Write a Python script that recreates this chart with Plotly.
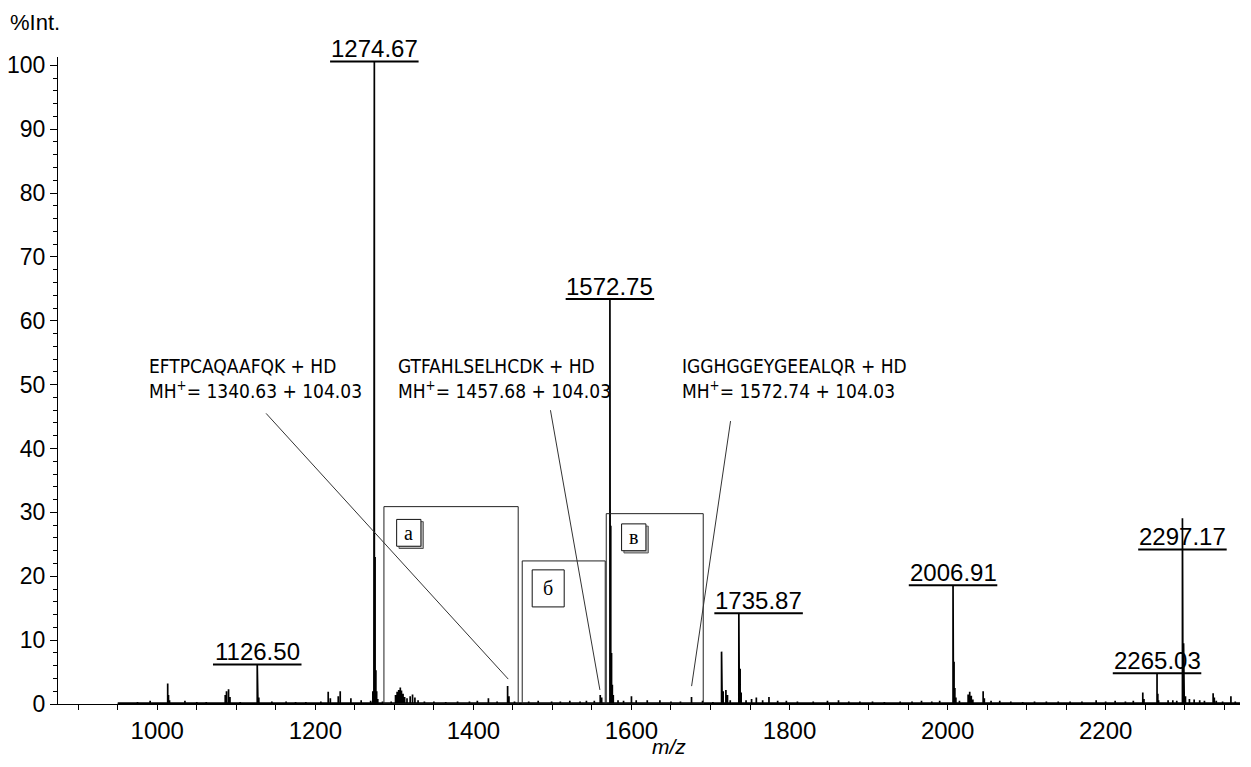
import plotly.graph_objects as go

# ---------------- data ----------------
scan_range = [950, 2370]          # acquired m/z range (baseline extent)

peak_mz = [975, 991, 1013.2, 1014.2, 1015.5, 1035, 1050, 1062, 1086.0, 1087.6, 1090.2, 1092.0,
           1105, 1126.50, 1127.4, 1128.5, 1145, 1163, 1175, 1188, 1207, 1216.3, 1219, 1229,
           1231.5, 1245, 1258, 1270, 1272.8, 1274.1, 1274.67, 1275.6, 1276.6, 1277.6, 1279,
           1285, 1296, 1301.5, 1303.5, 1305.5, 1307.5, 1309, 1311, 1313, 1316, 1320, 1323,
           1326, 1330, 1338, 1350, 1365, 1380, 1395, 1405, 1419, 1430, 1443.3, 1445, 1452,
           1470, 1482, 1499, 1510, 1522, 1535, 1543, 1553, 1560.5, 1562.3, 1572.75, 1573.2,
           1573.8, 1574.8, 1575.8, 1577, 1583, 1590, 1600, 1606, 1620, 1636, 1650, 1662,
           1676, 1690, 1703, 1714.0, 1714.8, 1716, 1719.5, 1721.5, 1725, 1735.87, 1736.5,
           1737.5, 1738.8, 1745, 1752, 1758, 1766, 1774, 1785, 1796, 1810, 1830, 1848, 1862,
           1875, 1889, 1905, 1920, 1940, 1955, 1967, 1980, 1990, 2006.91, 2007.4, 2008.2,
           2009.2, 2010.5, 2015, 2026, 2028, 2030, 2032, 2045, 2046.5, 2055, 2066, 2080,
           2095, 2110, 2125, 2140, 2155, 2170, 2188, 2200, 2212, 2225, 2235, 2247, 2248.5,
           2265.03, 2266, 2267, 2279, 2285, 2290, 2297.17, 2297.8, 2298.6, 2299.5, 2301,
           2306, 2312, 2319, 2325, 2336, 2337.5, 2340, 2348, 2358.5, 2364]
peak_int = [0.3, 0.5, 3.2, 1.4, 0.6, 0.5, 0.3, 0.3, 1.4, 2.0, 2.3, 1.1,
            0.3, 6.2, 3.6, 1.0, 0.4, 0.4, 0.3, 0.3, 0.4, 1.9, 0.9, 1.2,
            2.0, 0.9, 0.6, 0.5, 2.0, 81.0, 100.6, 23.0, 5.3, 2.0, 0.8,
            0.4, 0.4, 1.4, 1.9, 2.2, 2.6, 2.1, 1.6, 1.1, 0.9, 1.2, 1.5,
            1.0, 0.6, 0.4, 0.4, 0.3, 0.4, 0.4, 0.5, 0.9, 0.4, 2.8, 1.2, 0.4,
            0.4, 0.5, 0.4, 0.4, 0.5, 0.4, 0.5, 0.5, 1.4, 1.0, 63.4, 56.1,
            27.9, 8.0, 3.0, 1.4, 0.6, 0.5, 1.2, 0.6, 0.6, 0.6, 0.4, 0.4,
            1.1, 0.5, 0.3, 8.2, 4.0, 2.0, 2.2, 1.4, 0.6, 14.2, 12.0,
            5.5, 1.8, 0.6, 0.8, 1.0, 0.6, 1.1, 0.5, 0.5, 0.4, 0.4, 0.5, 0.6,
            0.4, 0.4, 0.4, 0.3, 0.4, 0.4, 0.5, 0.4, 0.5, 18.6, 13.4, 6.6,
            2.5, 1.0, 0.5, 1.5, 1.9, 1.3, 0.7, 2.0, 0.9, 0.5, 0.5, 0.4,
            0.3, 0.4, 0.4, 0.4, 0.4, 0.4, 0.6, 0.4, 0.5, 0.4, 0.5, 1.8, 0.8,
            4.8, 1.6, 0.6, 0.6, 0.6, 0.5, 29.1, 18.6, 9.5, 3.0, 1.2,
            0.8, 0.7, 0.6, 0.5, 1.7, 1.0, 0.5, 0.4, 1.2, 0.4]

# labelled peaks
label_mz = [1126.50, 1274.67, 1572.75, 1735.87, 2006.91, 2265.03, 2297.17]
label_level = [6.2, 100.6, 63.4, 14.2, 18.6, 4.8, 24.2]     # height of the label underline (%Int.)
label_text = ["1126.50", "1274.67", "1572.75", "1735.87", "2006.91", "2265.03", "2297.17"]
label_offset_mz = [0, 0, 0, 25, 0, 0, 0]

# peptide assignments
pep_seq = ["EFTPCAQAAFQK + HD", "GTFAHLSELHCDK + HD", "IGGHGGEYGEEALQR + HD"]
pep_mh = ["1340.63 + 104.03", "1457.68 + 104.03", "1572.74 + 104.03"]
pep_text_mz = [987, 1302, 1661]
pep_text_level = 50.9
callout_from_mz = [1137.7, 1497.5, 1725.4]
callout_from_int = [45.5, 46.0, 44.3]
callout_to_mz = [1444.1, 1560.1, 1676.1]
callout_to_int = [3.9, 2.2, 2.8]

# inset regions a, b, v
region_name = ["а", "б", "в"]
region_lo = [1286.8, 1461.8, 1568.1]
region_hi = [1456.7, 1566.8, 1690.8]
region_top = [30.9, 22.4, 29.8]
tag_lo = [1302.9, 1474.4, 1587.5]
tag_hi = [1333.6, 1514.9, 1618.3]
tag_bottom = [24.7, 15.2, 24.0]
tag_top = [28.9, 21.0, 28.2]
tag_shadow = [True, False, True]

x_range = [874.4, 2370]
y_range = [0, 101.3]
x_ticks = [1000, 1200, 1400, 1600, 1800, 2000, 2200]
y_ticks = [0, 10, 20, 30, 40, 50, 60, 70, 80, 90, 100]

# ---------------- figure ----------------
xs, ys = [scan_range[0]], [0]
for m, h in zip(peak_mz, peak_int):
    xs += [m, m, m]
    ys += [0, h, 0]
xs.append(scan_range[1]); ys.append(0)

fig = go.Figure()
fig.add_trace(go.Scatter(x=scan_range, y=[0, 0], mode="lines",
                         line=dict(color="black", width=3.5), hoverinfo="skip", showlegend=False))
fig.add_trace(go.Scatter(x=xs, y=ys, mode="lines",
                         line=dict(color="black", width=1.7), showlegend=False))

shapes = []
annotations = []

# region boxes
for lo, hi, top in zip(region_lo, region_hi, region_top):
    shapes.append(dict(type="rect", xref="x", yref="y", x0=lo, x1=hi, y0=0, y1=top,
                       line=dict(color="#222", width=1), fillcolor="rgba(0,0,0,0)", layer="above"))
# callout lines
for x0, y0, x1, y1 in zip(callout_from_mz, callout_from_int, callout_to_mz, callout_to_int):
    shapes.append(dict(type="line", xref="x", yref="y", x0=x0, y0=y0, x1=x1, y1=y1,
                       line=dict(color="#333", width=1), layer="above"))
# tag boxes
sx, sy = 3.0, 0.35
for name, lo, hi, bo, to, sh in zip(region_name, tag_lo, tag_hi, tag_bottom, tag_top, tag_shadow):
    if sh:
        shapes.append(dict(type="rect", xref="x", yref="y", x0=lo + sx, x1=hi + sx, y0=bo - sy, y1=to - sy,
                           line=dict(color="#555", width=1), fillcolor="#bbb", layer="above"))
    shapes.append(dict(type="rect", xref="x", yref="y", x0=lo, x1=hi, y0=bo, y1=to,
                       line=dict(color="#111", width=1), fillcolor="white", layer="above"))
    annotations.append(dict(x=(lo + hi) / 2, y=(bo + to) / 2, xref="x", yref="y", text=name,
                            showarrow=False, xanchor="center", yanchor="middle",
                            font=dict(family="Liberation Serif, Times New Roman, serif", size=20, color="black")))

# peak labels with underline
for m, lvl, txt, off in zip(label_mz, label_level, label_text, label_offset_mz):
    c = m + off
    shapes.append(dict(type="line", xref="x", yref="y", x0=c - 56, x1=c + 56, y0=lvl, y1=lvl,
                       line=dict(color="black", width=2), layer="above"))
    annotations.append(dict(x=c, y=lvl, xref="x", yref="y", text=txt, showarrow=False,
                            xanchor="center", yanchor="bottom", yshift=-3,
                            font=dict(family="Liberation Sans, Arial, sans-serif", size=24, color="black")))

# peptide texts
for seq, mh, xm in zip(pep_seq, pep_mh, pep_text_mz):
    annotations.append(dict(x=xm, y=pep_text_level, xref="x", yref="y",
                            text=f"{seq}<br>MH<sup>+</sup>= {mh}", showarrow=False,
                            xanchor="left", yanchor="middle", align="left",
                            font=dict(family="Liberation Sans Narrow, Arial Narrow, DejaVu Sans Condensed, sans-serif",
                                      size=19, color="black")))

# axis titles
annotations.append(dict(x=0, y=1, xref="paper", yref="paper", text="%Int.", showarrow=False,
                        xanchor="left", yanchor="middle", xshift=-50, yshift=35,
                        font=dict(family="Liberation Sans, Arial, sans-serif", size=22, color="black")))
annotations.append(dict(x=1648, y=0, xref="x", yref="paper", text="<i>m/z</i>", showarrow=False,
                        xanchor="center", yanchor="middle", yshift=-42,
                        font=dict(family="Liberation Sans, Arial, sans-serif", size=21, color="black")))

fig.update_layout(
    width=1243, height=759,
    margin=dict(l=50, r=11, t=49, b=63),
    paper_bgcolor="white", plot_bgcolor="white",
    shapes=shapes, annotations=annotations,
    xaxis=dict(range=x_range, tickvals=x_ticks, ticks="outside", ticklen=5, tickwidth=1,
               tickcolor="black", showline=True, linecolor="black", linewidth=1,
               showgrid=False, zeroline=False, automargin=False,
               minor=dict(dtick=50, tick0=0, ticks="outside", ticklen=5, tickcolor="black", showgrid=False),
               tickfont=dict(family="Liberation Sans, Arial, sans-serif", size=24, color="black")),
    yaxis=dict(range=y_range, tickvals=y_ticks, ticks="outside", ticklen=7, tickwidth=1,
               tickcolor="black", showline=True, linecolor="black", linewidth=1,
               showgrid=False, zeroline=False, automargin=False,
               minor=dict(dtick=2, tick0=0, ticks="outside", ticklen=4, tickcolor="black", showgrid=False),
               tickfont=dict(family="Liberation Sans, Arial, sans-serif", size=23, color="black")),
)

fig.write_html("out.html")
